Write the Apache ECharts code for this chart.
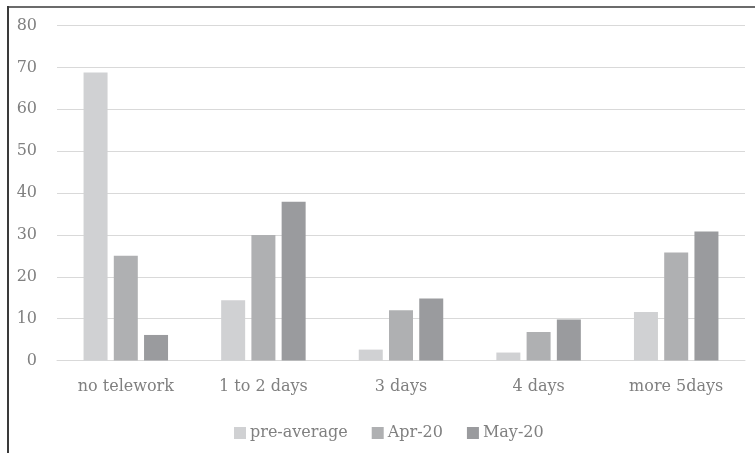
<!DOCTYPE html>
<html>
<head>
<meta charset="utf-8">
<style>
  html, body { margin: 0; padding: 0; background: #ffffff; }
  #chart { width: 755px; height: 453px; }
</style>
<script src="https://cdn.jsdelivr.net/npm/echarts@6/dist/echarts.min.js"></script>
</head>
<body>
<div id="chart"></div>
<script>
// Telework days per week: share of respondents (%)
const categories = ['no telework', '1 to 2 days', '3 days', '4 days', 'more 5days'];
const preAverage = [68.8, 14.4, 2.6, 1.9, 11.6];
const apr20 = [25.0, 30.0, 12.0, 6.8, 25.8];
const may20 = [6.1, 37.9, 14.8, 9.8, 30.8];
const seriesNames = ['pre-average', 'Apr-20', 'May-20'];
const yTicks = { min: 0, max: 80, interval: 10 };

const FONT = 'DejaVu Serif';
const TEXT_COLOR = '#808080';
const colors = ['#d0d1d3', '#afb0b2', '#9a9b9e'];

const chart = echarts.init(document.getElementById('chart'), null, { renderer: 'canvas' });

const makeSeries = (name, data, color) => ({
  name: name,
  type: 'bar',
  data: data,
  barWidth: 24,
  barGap: '26%',
  itemStyle: { color: color },
  emphasis: { disabled: true }
});

chart.setOption({
  animation: false,
  grid: { left: 57, right: 10, top: 25.5, bottom: 92.5, containLabel: false },
  xAxis: {
    type: 'category',
    data: categories,
    axisLine: { lineStyle: { color: '#d9d9d9', width: 1 } },
    axisTick: { show: false },
    axisLabel: { color: TEXT_COLOR, fontFamily: FONT, fontSize: 16, margin: 18 }
  },
  yAxis: {
    type: 'value',
    min: yTicks.min,
    max: yTicks.max,
    interval: yTicks.interval,
    axisLine: { show: false },
    axisTick: { show: false },
    splitLine: { lineStyle: { color: '#d9d9d9', width: 1 } },
    axisLabel: { color: TEXT_COLOR, fontFamily: FONT, fontSize: 16, margin: 20 }
  },
  legend: {
    data: seriesNames,
    left: 229,
    top: 420,
    icon: 'rect',
    itemWidth: 12,
    itemHeight: 12,
    itemGap: 24,
    textStyle: { color: TEXT_COLOR, fontFamily: FONT, fontSize: 16, padding: [0, 0, 0, -1] }
  },
  graphic: [
    // frame: heavy rule along the top, thin rule down the left side
    { type: 'rect', shape: { x: 8, y: 6, width: 760, height: 2 }, style: { fill: '#6b6b6b' }, silent: true },
    { type: 'rect', shape: { x: 7, y: 6, width: 2, height: 460 }, style: { fill: '#3a3a3a' }, silent: true }
  ],
  series: [
    makeSeries(seriesNames[0], preAverage, colors[0]),
    makeSeries(seriesNames[1], apr20, colors[1]),
    makeSeries(seriesNames[2], may20, colors[2])
  ]
});
</script>
</body>
</html>
